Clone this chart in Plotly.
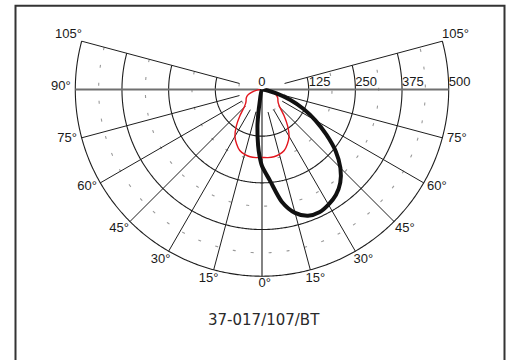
import math
import plotly.graph_objects as go

# Polar grid definition (angles in degrees from nadir; + = right half, - = left half)
angle_ticks = [-105, -90, -75, -60, -45, -30, -15, 0, 15, 30, 45, 60, 75, 90, 105]
angle_labels = ["105°", "90°", "75°", "60°", "45°", "30°", "15°", "0°",
                "15°", "30°", "45°", "60°", "75°", "", "105°"]
ring_values = [125, 250, 375, 500]
minor_ring_values = [62.5, 187.5, 312.5, 437.5]
scale_values = [0, 125, 250, 375, 500]
scale_labels = ["0", "125", "250", "375", "500"]

# C0-C180 plane (red)
red_theta = [-90, -85, -80, -75, -70, -65, -60, -55, -50, -45, -40, -35, -30, -25, -20, -15, -10, -5,
             0, 5, 10, 15, 20, 25, 30, 35, 40, 45, 50, 55, 60, 65, 70, 75, 80, 85, 90]
red_cd = [3, 11, 20, 29, 38, 45, 49, 52, 57, 68, 92, 120, 145, 161, 174, 180, 183, 183,
          182, 183, 183, 180, 174, 161, 145, 120, 92, 68, 57, 52, 49, 45, 38, 29, 20, 11, 3]

# C90-C270 plane (black)
black_theta = [-12, -10, -9, -7, -4, -2, 0, 5, 10, 15, 20, 25, 30, 35, 40, 45, 50, 55,
               60, 65, 70, 75, 80, 85, 90]
black_cd = [0, 40, 60, 100, 150, 180, 205, 245, 305, 342, 360, 363, 356, 345, 326, 297, 258, 210,
            165, 122, 80, 40, 15, 5, 0]

R_MAX = 500          # outer ring of the diagram
R_AXIS = 545         # radial axis extent (leaves room for the angle labels)
R_INNER = 62.5
HALF_SPAN = 108      # angular half-span of the polar subplot
GRID = "#1e1e1e"
LABEL_FONT = dict(family="Liberation Sans, Arial, sans-serif", size=13, color="#1a1a1a")


def arc(r, a0, a1, step=0.5):
    n = int(round((a1 - a0) / step))
    th = [a0 + i * (a1 - a0) / n for i in range(n + 1)]
    return [r] * len(th), th


fig = go.Figure()

# dashed intermediate rings
for rv in minor_ring_values:
    rr, tt = arc(rv, angle_ticks[0], angle_ticks[-1])
    fig.add_trace(go.Scatterpolar(r=rr, theta=tt, mode="lines",
                                  line=dict(color="#999999", width=1.1, dash="3px,15px"),
                                  hoverinfo="skip", showlegend=False))

# solid rings
for rv in ring_values:
    rr, tt = arc(rv, angle_ticks[0], angle_ticks[-1])
    fig.add_trace(go.Scatterpolar(r=rr, theta=tt, mode="lines",
                                  line=dict(color=GRID, width=1.1),
                                  hoverinfo="skip", showlegend=False))

# radial spokes (start at the inner ring)
sr, st = [], []
for a in angle_ticks:
    if a in (0, 90, -90):
        continue
    sr += [R_INNER, R_MAX, None]
    st += [a, a, None]
fig.add_trace(go.Scatterpolar(r=sr, theta=st, mode="lines",
                              line=dict(color=GRID, width=1),
                              hoverinfo="skip", showlegend=False))

# vertical axis through the luminaire (0 deg), extended a little upward
fig.add_trace(go.Scatterpolar(r=[R_INNER, 0, R_MAX], theta=[180, 0, 0], mode="lines",
                              line=dict(color=GRID, width=1.1), cliponaxis=False,
                              hoverinfo="skip", showlegend=False))

# horizontal 90 deg axis
fig.add_trace(go.Scatterpolar(r=[R_MAX, 0, R_MAX], theta=[-90, 0, 90], mode="lines",
                              line=dict(color="#707070", width=2), cliponaxis=False,
                              hoverinfo="skip", showlegend=False))

# intensity curves
fig.add_trace(go.Scatterpolar(r=red_cd, theta=red_theta, mode="lines",
                              line=dict(color="#e3151d", width=1.4, shape="spline", smoothing=0.8),
                              hoverinfo="skip", showlegend=False))
fig.add_trace(go.Scatterpolar(r=black_cd, theta=black_theta, mode="lines",
                              line=dict(color="#111111", width=4, shape="spline", smoothing=0.8),
                              hoverinfo="skip", showlegend=False))

# angle labels around the outer ring
lab_r, lab_t, lab_s = [], [], []
for a, s in zip(angle_ticks, angle_labels):
    if not s:
        continue
    lab_r.append(521 + 18 * abs(math.sin(math.radians(a))))
    lab_t.append(a + (0.8 if a >= 0 else -0.8))
    lab_s.append(s)
fig.add_trace(go.Scatterpolar(r=lab_r, theta=lab_t, mode="text", text=lab_s,
                              textposition="middle center", textfont=LABEL_FONT,
                              cliponaxis=False, hoverinfo="skip", showlegend=False))

# intensity scale labels along the right 90 deg axis
fig.add_trace(go.Scatterpolar(r=scale_values[:1], theta=[0], mode="text", text=scale_labels[:1],
                              textposition="top center", textfont=LABEL_FONT,
                              cliponaxis=False, hoverinfo="skip", showlegend=False))
fig.add_trace(go.Scatterpolar(r=scale_values[1:], theta=[90] * 4, mode="text", text=scale_labels[1:],
                              textposition="top right", textfont=LABEL_FONT,
                              cliponaxis=False, hoverinfo="skip", showlegend=False))

W, H = 507, 360
cx, cy = 262.0, 89.5
rad = 186.7 * R_AXIS / R_MAX
top = math.sin(math.radians(HALF_SPAN - 90))
fig.update_layout(
    width=W, height=H,
    margin=dict(l=0, r=0, t=0, b=0),
    paper_bgcolor="white",
    plot_bgcolor="white",
    polar=dict(
        domain=dict(x=[(cx - rad) / W, (cx + rad) / W],
                    y=[1 - (cy + rad) / H, 1 - (cy - rad * top) / H]),
        sector=[-90 - HALF_SPAN, -90 + HALF_SPAN],
        bgcolor="rgba(0,0,0,0)",
        radialaxis=dict(range=[0, R_AXIS], visible=False),
        angularaxis=dict(rotation=-90, direction="counterclockwise", visible=False),
    ),
    shapes=[dict(type="rect", xref="paper", yref="paper",
                 x0=15.5 / W, x1=504.5 / W, y0=-0.05, y1=1 - 5.8 / H,
                 line=dict(color="#333333", width=2))],
    annotations=[dict(text="37-017/107/BT", xref="paper", yref="paper",
                      x=263.5 / W, y=1 - 319.5 / H, xanchor="center", yanchor="middle",
                      showarrow=False,
                      font=dict(family="DejaVu Sans, Verdana, sans-serif", size=15, color="#2a2a2a"))],
)

fig.write_html("out.html")
